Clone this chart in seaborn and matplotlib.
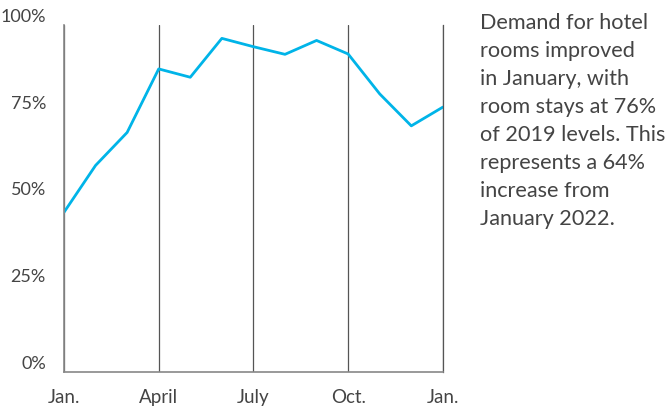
import pandas as pd
import numpy as np
from matplotlib import pyplot as plt
import seaborn as sns

# monthly hotel room stays as % of 2019 levels, Jan. 2022 to Jan. 2023
months = ['Jan', 'Feb', 'Mar', 'Apr', 'May', 'Jun', 'Jul',
          'Aug', 'Sep', 'Oct', 'Nov', 'Dec', 'Jan23']
stays = [46, 59.5, 69, 87.3, 84.9, 96.1, 93.7, 91.5, 95.5, 91.6, 80.1, 70.9, 76.3]
tick_pos = [0, 3, 6, 9, 12]
tick_labels = ['Jan.', 'April', 'July', 'Oct.', 'Jan.']
y_ticks = [0, 25, 50, 75, 100]

df = pd.DataFrame({'month': np.arange(len(months)), 'stays': stays})

sns.set_style('white')
plt.rcParams['font.family'] = ['Lato', 'DejaVu Sans']
text_col = '#444444'

fig = plt.figure(figsize=(6.7, 4.07), dpi=100)
ax = fig.add_axes([0.0955, 0.086, 0.5655, 0.853])

sns.lineplot(data=df, x='month', y='stays', color='#00b4e8', linewidth=2, ax=ax)

ax.set_xlim(0, 12)
ax.set_ylim(0, 100)
ax.set_xticks(tick_pos)
ax.set_xticklabels(tick_labels)
ax.set_yticks(y_ticks)
ax.set_yticklabels([f'{v}%' for v in y_ticks], va='bottom')
ax.tick_params(axis='both', length=0, labelsize=13, colors=text_col)
ax.tick_params(axis='x', pad=12, labelsize=13.5)
ax.tick_params(axis='y', pad=13)
ax.set_xlabel('')
ax.set_ylabel('')

# vertical quarter lines
ax.grid(axis='x', color='#555555', linewidth=0.9)
ax.grid(axis='y', visible=False)
ax.spines['top'].set_visible(False)
for s in ['left', 'bottom', 'right']:
    ax.spines[s].set_color('#888888')
    ax.spines[s].set_linewidth(1.2)
ax.spines['right'].set_color('#555555')
ax.spines['right'].set_linewidth(0.9)

fig.text(0.716, 0.968,
         'Demand for hotel\nrooms improved\nin January, with\nroom stays at 76%\n'
         'of 2019 levels. This\nrepresents a 64%\nincrease from\nJanuary 2022.',
         ha='left', va='top', fontsize=15.6, color=text_col, linespacing=1.5)

fig.savefig('out.png', dpi=100)
